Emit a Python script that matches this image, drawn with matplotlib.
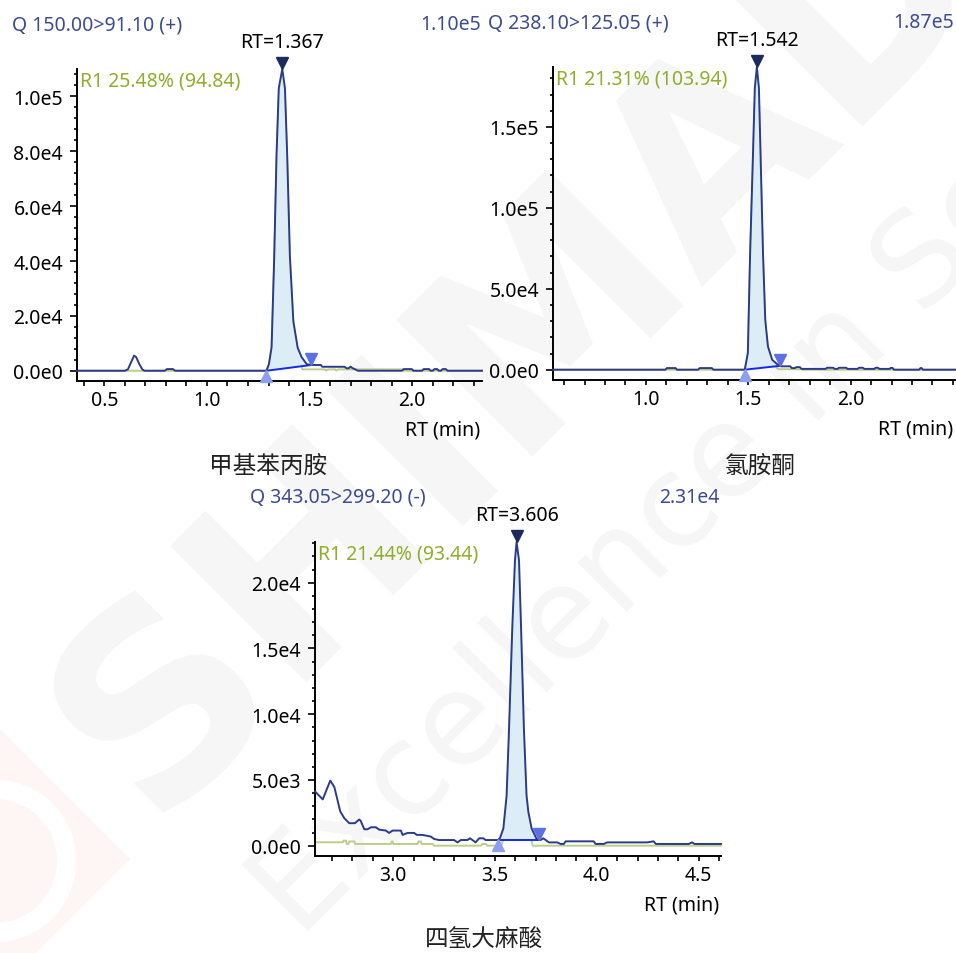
import numpy as np
import matplotlib
matplotlib.use("Agg")
import matplotlib.pyplot as plt
from matplotlib.ticker import MultipleLocator, FuncFormatter
from matplotlib.transforms import offset_copy
from matplotlib.patches import Polygon, Circle

plt.rcParams['font.family'] = ['Noto Sans', 'Noto Sans CJK SC', 'DejaVu Sans']

# ---------------- data ----------------
# 甲基苯丙胺  Q 150.00>91.10 (+)
rt_meth = [0.367, 0.600, 0.615, 0.630, 0.645, 0.655, 0.670, 0.685, 0.695, 0.795,
           0.805, 0.835, 0.845, 1.290, 1.302, 1.315, 1.328, 1.339, 1.350, 1.367,
           1.380, 1.391, 1.404, 1.421, 1.442, 1.461, 1.486, 1.508, 1.555, 1.562,
           1.670, 1.680, 1.690, 1.700, 1.708, 1.725, 1.735, 1.950, 1.958, 1.998,
           2.006, 2.048, 2.056, 2.082, 2.090, 2.100, 2.108, 2.122, 2.130, 2.140,
           2.148, 2.164, 2.172, 2.340]
int_meth = [0, 0, 500, 3000, 5500, 5000, 2500, 500, 0, 0,
            600, 600, 0, 0, 2400, 8600, 42000, 78500, 103000, 110000,
            103000, 78500, 42000, 18000, 8400, 5000, 2400, 2100, 2100, 1450,
            1450, 900, 900, 1500, 1000, 400, 0, 0, 600, 600,
            0, 0, 600, 600, 0, 0, 600, 600, 0, 0,
            600, 600, 0, 0]
rt_meth_ref = [0.367, 1.290, 1.302, 1.315, 1.328, 1.339, 1.350, 1.367, 1.380, 1.391,
               1.404, 1.421, 1.442, 1.455, 1.465, 1.575, 1.580, 1.590, 1.625, 1.630,
               1.640, 1.950, 1.955, 2.340]
int_meth_ref = [0, 0, 2000, 8000, 40000, 76000, 100000, 107000, 100000, 76000,
                40000, 17000, 7500, 3000, 500, 500, 100, 500, 500, 100,
                500, 500, 0, 0]

# 氯胺酮  Q 238.10>125.05 (+)
rt_ket = [0.546, 1.095, 1.102, 1.145, 1.152, 1.255, 1.262, 1.322, 1.330, 1.483,
          1.498, 1.509, 1.523, 1.532, 1.542, 1.552, 1.560, 1.572, 1.583, 1.596,
          1.617, 1.645, 1.660, 1.705, 1.712, 1.728, 1.735, 1.752, 1.760, 1.878,
          1.885, 1.915, 1.922, 1.936, 1.943, 1.978, 1.985, 2.034, 2.041, 2.060,
          2.067, 2.116, 2.122, 2.134, 2.140, 2.190, 2.196, 2.205, 2.212, 2.335,
          2.341, 2.347, 2.353, 2.510]
int_ket = [0, 0, 1000, 1000, 0, 0, 1000, 1000, 0, 0,
           10300, 71700, 133000, 174000, 187000, 174000, 133000, 71700, 30700, 14400,
           6100, 3000, 2100, 2100, 1000, 1000, 1600, 1600, 500, 500,
           1200, 1200, 500, 500, 1200, 1200, 500, 500, 1200, 1200,
           500, 500, 1200, 1200, 500, 500, 1100, 1100, 0, 0,
           1000, 1000, 0, 0]
rt_ket_ref = [0.546, 1.483, 1.498, 1.509, 1.523, 1.532, 1.542, 1.552, 1.560, 1.572,
              1.583, 1.596, 1.617, 1.640, 1.650, 1.760, 1.765, 2.510]
int_ket_ref = [0, 0, 9500, 68000, 127000, 166000, 178000, 166000, 127000, 68000,
               29000, 13000, 5000, 1000, 300, 300, 0, 0]

# 四氢大麻酸  Q 343.05>299.20 (-)
rt_thc = [2.616, 2.654, 2.691, 2.711, 2.740, 2.760, 2.784, 2.812, 2.833, 2.840,
          2.858, 2.874, 2.891, 2.915, 2.931, 2.964, 2.980, 2.997, 3.038, 3.046,
          3.071, 3.103, 3.116, 3.144, 3.160, 3.185, 3.201, 3.225, 3.299, 3.316,
          3.332, 3.365, 3.377, 3.389, 3.405, 3.422, 3.443, 3.454, 3.515, 3.525,
          3.541, 3.557, 3.569, 3.585, 3.598, 3.606, 3.618, 3.628, 3.642, 3.655,
          3.664, 3.680, 3.705, 3.716, 3.724, 3.737, 3.765, 3.806, 3.822, 3.838,
          3.847, 3.985, 3.994, 4.034, 4.051, 4.141, 4.247, 4.279, 4.290, 4.451,
          4.468, 4.480, 4.610]
int_thc = [4130, 3520, 4950, 4460, 2600, 2090, 1710, 1710, 1990, 1900,
           1250, 1250, 1400, 1400, 1220, 1150, 970, 1150, 1150, 820,
           970, 970, 820, 820, 770, 690, 510, 430, 430, 250,
           430, 430, 560, 430, 250, 560, 560, 430, 430, 600,
           1300, 3800, 8900, 16600, 21700, 23100, 21700, 16600, 8900, 3800,
           2550, 1300, 500, 430, 430, 560, 250, 250, 130, 130,
           330, 330, 130, 130, 250, 250, 250, 330, 130, 130,
           250, 130, 130]
rt_thc_ref = [2.616, 2.752, 2.756, 2.768, 2.772, 2.780, 2.784, 2.809, 2.813, 2.989,
              2.993, 2.997, 3.001, 3.120, 3.124, 3.136, 3.140, 3.193, 3.201, 3.430,
              3.438, 3.454, 3.462, 3.530, 3.545, 3.557, 3.569, 3.585, 3.598, 3.606,
              3.618, 3.628, 3.642, 3.655, 3.664, 3.675, 3.685, 4.610]
int_thc_ref = [260, 260, 380, 380, 130, 130, 320, 320, 130, 130,
               320, 320, 130, 130, 320, 320, 130, 130, 0, 0,
               130, 130, 0, 0, 600, 3000, 8000, 15500, 20500, 22000,
               20500, 15500, 8000, 3000, 1800, 700, 0, 0]

compounds = ['甲基苯丙胺', '氯胺酮', '四氢大麻酸']
transitions = ['Q 150.00>91.10 (+)', 'Q 238.10>125.05 (+)', 'Q 343.05>299.20 (-)']
ratio_labels = ['R1 25.48% (94.84)', 'R1 21.31% (103.94)', 'R1 21.44% (93.44)']
apex_rts = [1.367, 1.542, 3.606]
peak_starts = [1.290, 1.483, 3.515]
peak_ends = [1.508, 1.655, 3.716]

# ---------------- style ----------------
TRACE = '#2b3b8a'
TITLE = '#3d4c91'
GREEN_TEXT = '#8fae2c'
GREEN_LINE = '#bccd88'
FILL = '#dcedf5'
BASE = '#1428ee'
APEX = '#1c2b5e'
START = '#8c9ff0'
END = '#5c6fe3'
FS = 14

W, H = 956, 954
fig = plt.figure(figsize=(W / 100, H / 100), dpi=100)

# faint background watermark
wm = dict(color='#f6f6f6', rotation=45, rotation_mode='anchor', zorder=-10,
          ha='left', va='baseline', family='DejaVu Sans')
fig.text(150 / W, 1 - 820 / H, 'SHIMADZU', fontsize=190, fontweight='bold', **wm)
fig.text(300 / W, 1 - 940 / H, 'Excellence in Science', fontsize=92, **wm)
fig.patches.append(Polygon([[-130 / W, 1 - 860 / H], [0, 1 - 730 / H], [130 / W, 1 - 860 / H],
                            [0, 1 - 990 / H]], closed=True, transform=fig.transFigure,
                           facecolor='#fef5f5', edgecolor='none', zorder=-9))
fig.patches.append(Circle((-5 / W, 1 - 862 / H), 0.075, transform=fig.transFigure,
                          facecolor='none', edgecolor='#ffffff', lw=14, zorder=-8))


def sci(v, digits=1):
    if v == 0:
        return '0.' + '0' * digits + 'e0'
    e = int(np.floor(np.log10(abs(v))))
    m = v / 10 ** e
    return f'{m:.{digits}f}e{e}'


def px_axes(left, top, right, bottom):
    return fig.add_axes([left / W, 1 - bottom / H, (right - left) / W, (bottom - top) / H])


def draw_panel(ax, rt, inten, rt_ref, inten_ref, i, xlim, ymajor, yminor, name_xy):
    rt = np.asarray(rt, float)
    inten = np.asarray(inten, float)
    ymax = inten.max()
    apex = apex_rts[i]
    start, end = peak_starts[i], peak_ends[i]

    ax.set_xlim(*xlim)
    ax.set_ylim(-0.034 * ymax, ymax)
    ax.patch.set_alpha(0)

    ax.plot(rt_ref, inten_ref, color=GREEN_LINE, lw=1.4, zorder=2, clip_on=False)

    y_s = np.interp(start, rt, inten)
    y_e = np.interp(end, rt, inten)
    inside = (rt > start) & (rt < end)
    xs = np.concatenate([[start], rt[inside], [end]])
    ys = np.concatenate([[y_s], inten[inside], [y_e]])
    base = np.interp(xs, [start, end], [y_s, y_e])
    ax.fill_between(xs, base, ys, color=FILL, lw=0, zorder=3)
    ax.plot([start, end], [y_s, y_e], color=BASE, lw=1.4, zorder=4)
    ax.plot(rt, inten, color=TRACE, lw=1.4, zorder=5, clip_on=False, solid_joinstyle='round')

    up = offset_copy(ax.transData, fig=fig, x=0, y=6, units='dots')
    dn = offset_copy(ax.transData, fig=fig, x=0, y=-5, units='dots')
    ax.plot([apex], [ymax], marker='v', ms=8, color=APEX, transform=up, clip_on=False, zorder=6)
    ax.plot([start], [y_s], marker='^', ms=8, color=START, transform=dn, clip_on=False, zorder=6)
    ax.plot([end], [y_e], marker='v', ms=8, color=END, transform=up, clip_on=False, zorder=6)

    ax.annotate(f'RT={apex:.3f}', xy=(apex, ymax), xytext=(0, 27), textcoords='offset pixels',
                ha='center', va='center', fontsize=FS, color='black', annotation_clip=False)
    ax.annotate(transitions[i], xy=(0, 1), xycoords='axes fraction', xytext=(-65, 45),
                textcoords='offset pixels', ha='left', va='center', fontsize=FS, color=TITLE)
    ax.annotate(sci(ymax, 2), xy=(1, 1), xycoords='axes fraction', xytext=(-1, 45),
                textcoords='offset pixels', ha='right', va='center', fontsize=FS, color=TITLE)
    ax.annotate(ratio_labels[i], xy=(0, 1), xycoords='axes fraction', xytext=(3, -12),
                textcoords='offset pixels', ha='left', va='center', fontsize=FS, color=GREEN_TEXT)
    ax.annotate('RT (min)', xy=(1, 0), xycoords='axes fraction', xytext=(-2, -49),
                textcoords='offset pixels', ha='right', va='center', fontsize=FS, color='black')
    fig.text(name_xy[0] / W, 1 - name_xy[1] / H, compounds[i], ha='center', va='center',
             fontsize=17, family=['Noto Sans CJK SC'], color='#222222')

    for s in ('top', 'right'):
        ax.spines[s].set_visible(False)
    for s in ('left', 'bottom'):
        ax.spines[s].set_linewidth(1.4)
        ax.spines[s].set_color('black')

    right_edge = xlim[1]
    ax.xaxis.set_major_locator(MultipleLocator(0.5))
    ax.xaxis.set_minor_locator(MultipleLocator(0.1))
    ax.xaxis.set_major_formatter(
        FuncFormatter(lambda v, p: '' if v > right_edge - 0.05 else f'{v:.1f}'))
    ax.yaxis.set_major_locator(MultipleLocator(ymajor))
    ax.yaxis.set_minor_locator(MultipleLocator(yminor))
    ax.yaxis.set_major_formatter(FuncFormatter(lambda v, p: sci(v, 1)))
    ax.tick_params(axis='x', which='both', direction='out', length=3.5, width=1.2,
                   labelsize=FS, pad=3)
    ax.tick_params(axis='y', which='major', direction='out', length=5, width=1.2,
                   labelsize=FS, pad=5)
    ax.tick_params(axis='y', which='minor', direction='out', length=2.5, width=1.2)


ax1 = px_axes(77, 70, 482, 382)
draw_panel(ax1, rt_meth, int_meth, rt_meth_ref, int_meth_ref, 0, (0.367, 2.34), 20000, 4000, (268, 466))

ax2 = px_axes(553, 68, 955, 381)
draw_panel(ax2, rt_ket, int_ket, rt_ket_ref, int_ket_ref, 1, (0.546, 2.51), 50000, 10000, (760, 466))

ax3 = px_axes(315, 543, 721, 857)
draw_panel(ax3, rt_thc, int_thc, rt_thc_ref, int_thc_ref, 2, (2.616, 4.61), 5000, 1000, (484, 940))

fig.savefig('out.png', dpi=100)
